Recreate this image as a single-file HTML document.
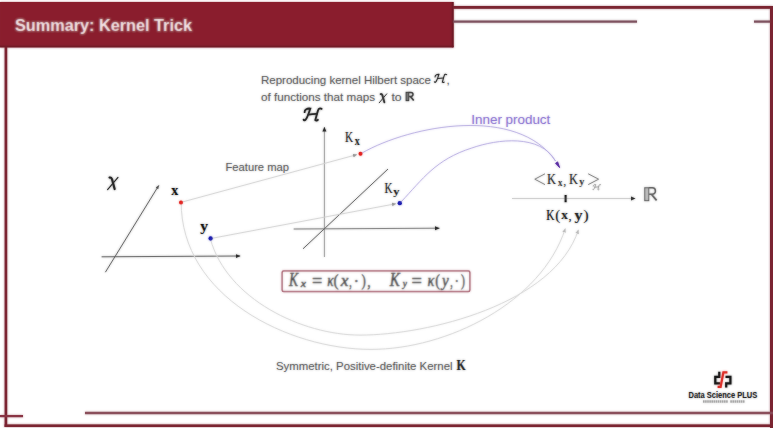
<!DOCTYPE html>
<html><head><meta charset="utf-8">
<style>
html,body{margin:0;padding:0;background:#fff;width:773px;height:428px;overflow:hidden}
svg{position:absolute;left:0;top:0;display:block}
#w{position:absolute;left:0;top:0;width:773px;height:428px}
</style></head><body>
<div id="w"><svg width="773" height="428" viewBox="0 0 773 428">
<defs>
<marker id="ah" markerWidth="6" markerHeight="6" refX="4.5" refY="3" orient="auto" markerUnits="userSpaceOnUse"><path d="M0,1 L4.5,3 L0,5 z" fill="#2a2a2a"/></marker>
<marker id="ahs" markerWidth="6" markerHeight="6" refX="3.5" refY="3" orient="auto" markerUnits="userSpaceOnUse"><path d="M0,1.5 L3.5,3 L0,4.5 z" fill="#555"/></marker>
<marker id="ahg" markerWidth="6" markerHeight="6" refX="4" refY="3" orient="auto" markerUnits="userSpaceOnUse"><path d="M0,1.2 L4,3 L0,4.8 z" fill="#999"/></marker>
<marker id="ahc" markerWidth="6" markerHeight="6" refX="4" refY="3" orient="auto" markerUnits="userSpaceOnUse"><path d="M0,1.2 L4,3 L0,4.8 z" fill="#bbb"/></marker>
<filter id="bl" x="-2%" y="-2%" width="104%" height="104%"><feGaussianBlur stdDeviation="0.8"/></filter>
<g id="all">
<rect x="0" y="2" width="453.5" height="45.3" fill="#8a1f2d"/>
<rect x="451.8" y="2" width="1.7" height="45.3" fill="#6a1a25"/>
<rect x="0" y="45.6" width="453.5" height="1.7" fill="#6e1b26"/>
<rect x="453" y="6" width="320" height="2.8" fill="#7b2532"/>
<rect x="770" y="6" width="3" height="422" fill="#7b2532"/>
<rect x="453" y="20.5" width="184" height="2.2" fill="#7f5360"/>
<rect x="754" y="20.5" width="16" height="2.2" fill="#7f5360"/>
<rect x="4.6" y="47" width="2.6" height="380" fill="#7b2532"/>
<rect x="4.6" y="424.4" width="769" height="2.6" fill="#7b2532"/>
<rect x="0" y="415" width="23" height="2.2" fill="#8a3545"/>
<rect x="85" y="411.8" width="688" height="2.4" fill="#8a4f5b"/>
<text x="15" y="30.9" font-family="Liberation Sans" font-size="16.6" font-weight="bold" fill="#f7e8ea" textLength="177" lengthAdjust="spacingAndGlyphs">Summary: Kernel Trick</text>
<text x="261" y="84.4" font-family="Liberation Sans" font-size="11.6" fill="#6a6a6a" textLength="170" lengthAdjust="spacingAndGlyphs">Reproducing kernel Hilbert space</text>
<g transform="translate(434,74) scale(0.68)" fill="none" stroke="#333" stroke-width="1.62" stroke-linecap="round"><path d="M1.6,4.2 C1.4,1.6 4.4,0.2 7.3,0.6 C6.1,4 4.6,9.4 2.6,11.7 C1.9,12.5 0.9,12.4 0.6,11.6"/><path d="M5.6,6.6 C8.5,6.3 11,6.1 13.8,5.9"/><path d="M18.6,0.9 C17.2,0.1 15.6,0.4 15.1,2.1 C14.1,5.2 13.1,9.1 12.3,12.1 C13,12.8 14.1,12.6 14.9,11.8"/></g>
<text x="446.5" y="84.4" font-family="Liberation Sans" font-size="11.6" fill="#6a6a6a">,</text>
<text x="261" y="100.6" font-family="Liberation Sans" font-size="11.6" fill="#6a6a6a" textLength="114" lengthAdjust="spacingAndGlyphs">of functions that maps</text>
<g transform="translate(378.6,93.2) scale(0.72)" fill="none" stroke="#3a3a3a" stroke-linecap="round"><path d="M2.8,1.2 C4.0,0.9 4.8,1.5 5.3,2.8 L8.0,12.7" stroke-width="2.63"/><path d="M11.3,0.9 L0.9,13.3" stroke-width="1.31"/></g>
<text x="391.4" y="100.6" font-family="Liberation Sans" font-size="11.6" fill="#6a6a6a" textLength="10.2" lengthAdjust="spacingAndGlyphs">to</text>
<g transform="translate(405.8,92) scale(0.64)" stroke="#484848" fill="none"><rect x="0.6" y="0.6" width="3.9" height="12.8" fill="#808080" stroke-width="1.72"/><path d="M4.5,0.6 H8.0 C12.3,0.6 12.3,7.0 8.0,7.0 H4.5" stroke-width="2.34"/><path d="M7.2,7.0 L12.4,13.2" stroke-width="2.66"/></g>
<text x="225.5" y="171.3" font-family="Liberation Sans" font-size="11.3" fill="#6a6a6a" textLength="63.5" lengthAdjust="spacingAndGlyphs">Feature map</text>
<text x="471.3" y="124.2" font-family="Liberation Sans" font-size="13.2" fill="#9580d4" textLength="79" lengthAdjust="spacingAndGlyphs">Inner product</text>
<text x="276" y="369.6" font-family="Liberation Sans" font-size="11.6" fill="#6a6a6a" textLength="176.5" lengthAdjust="spacingAndGlyphs">Symmetric, Positive-definite Kernel</text>
<text transform="translate(456.40,369.70) scale(0.806,1)" font-family="Liberation Serif" font-style="normal" font-weight="bold" font-size="14.66" fill="#333">K</text>
<g transform="translate(106.7,176.4) scale(1.0)" fill="none" stroke="#2a2a2a" stroke-linecap="round"><path d="M2.8,1.2 C4.0,0.9 4.8,1.5 5.3,2.8 L8.0,12.7" stroke-width="2.10"/><path d="M11.3,0.9 L0.9,13.3" stroke-width="1.05"/></g>
<line x1="101.6" y1="256.8" x2="240.2" y2="256" stroke="#606060" stroke-width="0.9" marker-end="url(#ah)"/>
<line x1="105.4" y1="272.2" x2="158.8" y2="185.4" stroke="#5a5a5a" stroke-width="0.9" marker-end="url(#ahs)"/>
<text transform="translate(171.35,194.80) scale(0.949,1)" font-family="Liberation Serif" font-style="normal" font-weight="bold" font-size="14.82" fill="#1a1a1a">x</text>
<text transform="translate(200.25,231.13) scale(1.064,1)" font-family="Liberation Serif" font-style="normal" font-weight="bold" font-size="14.67" fill="#1a1a1a">y</text>
<g transform="translate(303,108) scale(1.0)" fill="none" stroke="#2a2a2a" stroke-width="1.80" stroke-linecap="round"><path d="M1.6,4.2 C1.4,1.6 4.4,0.2 7.3,0.6 C6.1,4 4.6,9.4 2.6,11.7 C1.9,12.5 0.9,12.4 0.6,11.6"/><path d="M5.6,6.6 C8.5,6.3 11,6.1 13.8,5.9"/><path d="M18.6,0.9 C17.2,0.1 15.6,0.4 15.1,2.1 C14.1,5.2 13.1,9.1 12.3,12.1 C13,12.8 14.1,12.6 14.9,11.8"/></g>
<line x1="324.4" y1="257" x2="324.4" y2="127" stroke="#9a9a9a" stroke-width="0.9" marker-end="url(#ah)"/>
<line x1="293.7" y1="229" x2="439.5" y2="228.2" stroke="#7c7c7c" stroke-width="0.9" marker-end="url(#ah)"/>
<line x1="303" y1="248.8" x2="388" y2="169" stroke="#5a5a5a" stroke-width="0.9"/>
<text transform="translate(345.08,141.80) scale(0.785,1)" font-family="Liberation Serif" font-style="normal" font-weight="normal" font-size="14.36" fill="#333">K</text>
<text transform="translate(354.66,145.00) scale(0.865,1)" font-family="Liberation Serif" font-style="normal" font-weight="bold" font-size="11.55" fill="#333">x</text>
<text transform="translate(384.38,192.70) scale(0.767,1)" font-family="Liberation Serif" font-style="normal" font-weight="normal" font-size="14.51" fill="#333">K</text>
<text transform="translate(393.28,195.13) scale(1.187,1)" font-family="Liberation Serif" font-style="normal" font-weight="bold" font-size="10.52" fill="#333">y</text>
<line x1="181.2" y1="202.3" x2="357" y2="154.6" stroke="#d4d4d4" stroke-width="0.9" marker-end="url(#ahg)"/>
<line x1="210.4" y1="238.6" x2="396" y2="203.7" stroke="#d4d4d4" stroke-width="0.9" marker-end="url(#ahg)"/>
<path d="M362,153 C411.5,124.8 517.4,105.5 555.5,161" fill="none" stroke="#bab0e2" stroke-width="0.9"/>
<path d="M401,202 C422.9,178.8 435.5,159.6 471.8,148.0 C497.5,139.0 540.5,133.9 555.5,161" fill="none" stroke="#bab0e2" stroke-width="0.9"/>
<path d="M555.6,163.3 L559.6,167.6 L557.6,161.9 z" fill="#5a2ea4" stroke="#5a2ea4" stroke-width="0.9" stroke-linejoin="round"/>
<path d="M181.2,201.7 C180.7,296.4 288.5,349.4 371.0,349.4 C446.8,349.4 541.5,302.7 565.3,228.5" fill="none" stroke="#dcdcdc" stroke-width="1" marker-end="url(#ahc)"/>
<path d="M210.4,239.0 C226.9,299.0 302.1,335.1 360.0,335.1 C427.4,335.1 554.4,304.2 578.4,229.8" fill="none" stroke="#dcdcdc" stroke-width="1" marker-end="url(#ahc)"/>
<circle cx="181" cy="202.5" r="2.0" fill="#e3221e"/>
<circle cx="210.6" cy="238.5" r="2.15" fill="#1d1fb0"/>
<circle cx="360.5" cy="153.8" r="2.0" fill="#e3221e"/>
<circle cx="399.8" cy="203.2" r="2.15" fill="#1d1fb0"/>
<path d="M545,173.8 L534.8,179.2 L545,184.6" fill="none" stroke="#8a8a8a" stroke-width="1"/>
<text transform="translate(546.89,183.75) scale(0.858,1)" font-family="Liberation Serif" font-style="normal" font-weight="normal" font-size="14.51" fill="#383838">K</text>
<text transform="translate(557.97,185.60) scale(0.773,1)" font-family="Liberation Serif" font-style="normal" font-weight="bold" font-size="11.33" fill="#4a4a4a">x</text>
<text x="563.2" y="184.5" font-family="Liberation Serif" font-size="12" fill="#4a4a4a">,</text>
<text transform="translate(568.89,183.75) scale(0.858,1)" font-family="Liberation Serif" font-style="normal" font-weight="normal" font-size="14.51" fill="#383838">K</text>
<text transform="translate(579.30,184.96) scale(1.027,1)" font-family="Liberation Serif" font-style="normal" font-weight="bold" font-size="9.93" fill="#4a4a4a">y</text>
<path d="M588.2,173.8 L598.6,179.2 L588.2,184.6" fill="none" stroke="#8a8a8a" stroke-width="1"/>
<g transform="translate(592.5,184.3) scale(0.44)" fill="none" stroke="#999" stroke-width="1.82" stroke-linecap="round"><path d="M1.6,4.2 C1.4,1.6 4.4,0.2 7.3,0.6 C6.1,4 4.6,9.4 2.6,11.7 C1.9,12.5 0.9,12.4 0.6,11.6"/><path d="M5.6,6.6 C8.5,6.3 11,6.1 13.8,5.9"/><path d="M18.6,0.9 C17.2,0.1 15.6,0.4 15.1,2.1 C14.1,5.2 13.1,9.1 12.3,12.1 C13,12.8 14.1,12.6 14.9,11.8"/></g>
<line x1="512" y1="198.5" x2="635.3" y2="198.5" stroke="#d0d0d0" stroke-width="1.1" marker-end="url(#ah)"/>
<rect x="564.6" y="195" width="2" height="7.2" fill="#1e1e1e"/>
<g transform="translate(644.2,187.2) scale(1.0)" stroke="#6a6a6a" fill="none"><rect x="0.6" y="0.6" width="3.9" height="12.8" fill="#c4c4c4" stroke-width="1.10"/><path d="M4.5,0.6 H8.0 C12.3,0.6 12.3,7.0 8.0,7.0 H4.5" stroke-width="1.50"/><path d="M7.2,7.0 L12.4,13.2" stroke-width="1.70"/></g>
<text transform="translate(546.27,219.80) scale(0.804,1)" font-family="Liberation Serif" font-style="normal" font-weight="normal" font-size="14.20" fill="#222">K</text>
<text transform="translate(555.23,219.80) scale(1.043,1)" font-family="Liberation Serif" font-style="normal" font-weight="normal" font-size="14.56" fill="#2e2e2e">(</text>
<text transform="translate(561.35,219.40) scale(0.981,1)" font-family="Liberation Serif" font-style="normal" font-weight="bold" font-size="13.51" fill="#2e2e2e">x</text>
<text x="568.5" y="219.6" font-family="Liberation Serif" font-size="12.5" fill="#2e2e2e">,</text>
<text transform="translate(574.44,219.67) scale(1.071,1)" font-family="Liberation Serif" font-style="normal" font-weight="bold" font-size="14.97" fill="#2e2e2e">y</text>
<text transform="translate(583.37,219.80) scale(1.123,1)" font-family="Liberation Serif" font-style="normal" font-weight="normal" font-size="14.56" fill="#2e2e2e">)</text>
<rect x="282.2" y="270.9" width="187.6" height="20.6" fill="#fff" stroke="#ad6877" stroke-width="1.5" rx="1.5"/>
<text transform="translate(289.06,286.30) scale(0.760,1)" font-family="Liberation Serif" font-style="italic" font-weight="normal" font-size="17.87" fill="#333" stroke="#333" stroke-width="0.45">K</text>
<text transform="translate(300.84,287.30) scale(1.043,1)" font-family="Liberation Serif" font-style="italic" font-weight="normal" font-size="11.33" fill="#333" stroke="#333" stroke-width="0.45">x</text>
<text transform="translate(311.89,286.87) scale(0.951,1)" font-family="Liberation Serif" font-style="normal" font-weight="normal" font-size="19.20" fill="#333" stroke="#333" stroke-width="0.45">=</text>
<text transform="translate(327.22,286.30) scale(0.806,1)" font-family="Liberation Serif" font-style="italic" font-weight="normal" font-size="16.12" fill="#333" stroke="#333" stroke-width="0.45">κ</text>
<text transform="translate(333.53,285.99) scale(0.871,1)" font-family="Liberation Serif" font-style="normal" font-weight="normal" font-size="17.43" fill="#333" stroke="#333" stroke-width="0.45">(</text>
<text transform="translate(340.81,286.30) scale(1.078,1)" font-family="Liberation Serif" font-style="italic" font-weight="normal" font-size="16.12" fill="#333" stroke="#333" stroke-width="0.45">x</text>
<text transform="translate(349.32,286.57) scale(0.588,1)" font-family="Liberation Serif" font-style="normal" font-weight="normal" font-size="17.13" fill="#333" stroke="#333" stroke-width="0.45">,</text>
<text transform="translate(353.38,287.37) scale(1.053,1)" font-family="Liberation Serif" font-style="normal" font-weight="normal" font-size="16.08" fill="#333" stroke="#333" stroke-width="0.45">·</text>
<text transform="translate(361.59,285.99) scale(0.737,1)" font-family="Liberation Serif" font-style="normal" font-weight="normal" font-size="17.43" fill="#333" stroke="#333" stroke-width="0.45">)</text>
<text transform="translate(367.26,286.57) scale(0.823,1)" font-family="Liberation Serif" font-style="normal" font-weight="normal" font-size="17.13" fill="#333" stroke="#333" stroke-width="0.45">,</text>
<text transform="translate(389.68,286.30) scale(0.838,1)" font-family="Liberation Serif" font-style="italic" font-weight="normal" font-size="17.87" fill="#333" stroke="#333" stroke-width="0.45">K</text>
<text transform="translate(402.79,287.13) scale(0.864,1)" font-family="Liberation Serif" font-style="italic" font-weight="normal" font-size="10.97" fill="#333" stroke="#333" stroke-width="0.45">y</text>
<text transform="translate(411.38,286.87) scale(0.963,1)" font-family="Liberation Serif" font-style="normal" font-weight="normal" font-size="19.20" fill="#333" stroke="#333" stroke-width="0.45">=</text>
<text transform="translate(427.38,286.30) scale(0.888,1)" font-family="Liberation Serif" font-style="italic" font-weight="normal" font-size="16.12" fill="#333" stroke="#333" stroke-width="0.45">κ</text>
<text transform="translate(435.18,285.99) scale(0.804,1)" font-family="Liberation Serif" font-style="normal" font-weight="normal" font-size="17.43" fill="#333" stroke="#333" stroke-width="0.45">(</text>
<text transform="translate(441.97,286.38) scale(0.930,1)" font-family="Liberation Serif" font-style="italic" font-weight="normal" font-size="16.30" fill="#333" stroke="#333" stroke-width="0.45">y</text>
<text transform="translate(450.32,286.57) scale(0.588,1)" font-family="Liberation Serif" font-style="normal" font-weight="normal" font-size="17.13" fill="#333" stroke="#333" stroke-width="0.45">,</text>
<text transform="translate(454.55,287.37) scale(0.842,1)" font-family="Liberation Serif" font-style="normal" font-weight="normal" font-size="16.08" fill="#333" stroke="#333" stroke-width="0.45">·</text>
<text transform="translate(460.92,285.99) scale(0.670,1)" font-family="Liberation Serif" font-style="normal" font-weight="normal" font-size="17.43" fill="#333" stroke="#333" stroke-width="0.45">)</text>
<g fill="none" stroke="#1c1c1c" stroke-width="2.2"><path d="M719.3,371.8 V376.8 H715.3 V383.4 H720.2"/><path d="M725.5,376.8 H730.4 V383.4 H726.2 V387.6"/></g>
<path d="M727.4,372.4 H723.4 L720.6,386.9 H717.6" fill="none" stroke="#e0322c" stroke-width="2.2"/>
<text x="688.5" y="398" font-family="Liberation Sans" font-size="8.4" font-weight="bold" fill="#2e2e2e" textLength="68.8" lengthAdjust="spacingAndGlyphs">Data Science PLUS</text>
<g fill="#a8a8a8"><rect x="703.0" y="400.3" width="1.6" height="2.4"/><rect x="705.1" y="400.3" width="1.6" height="2.4"/><rect x="707.2" y="400.3" width="1.6" height="2.4"/><rect x="709.3" y="400.3" width="1.6" height="2.4"/><rect x="711.4" y="400.3" width="1.6" height="2.4"/><rect x="713.5" y="400.3" width="1.6" height="2.4"/><rect x="715.6" y="400.3" width="1.6" height="2.4"/><rect x="717.7" y="400.3" width="1.6" height="2.4"/><rect x="719.8" y="400.3" width="1.6" height="2.4"/><rect x="721.9" y="400.3" width="1.6" height="2.4"/><rect x="724.0" y="400.3" width="1.6" height="2.4"/><rect x="726.1" y="400.3" width="1.6" height="2.4"/><rect x="730.3" y="400.3" width="1.6" height="2.4"/><rect x="732.4" y="400.3" width="1.6" height="2.4"/><rect x="734.5" y="400.3" width="1.6" height="2.4"/><rect x="736.6" y="400.3" width="1.6" height="2.4"/><rect x="738.7" y="400.3" width="1.6" height="2.4"/><rect x="740.8" y="400.3" width="1.6" height="2.4"/><rect x="742.9" y="400.3" width="1.6" height="2.4"/></g>
</g>
</defs>
<use href="#all"/><use href="#all" filter="url(#bl)" opacity="0.55"/>
</svg></div>
</body></html>
